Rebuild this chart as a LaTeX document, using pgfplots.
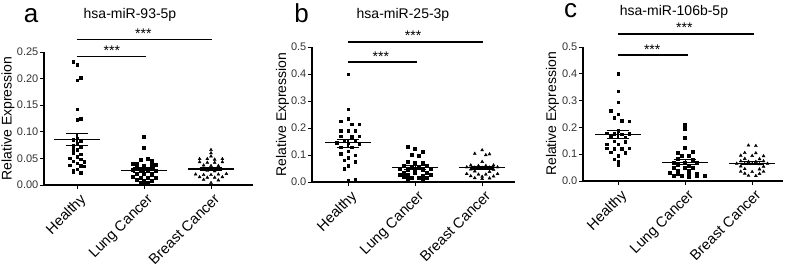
\documentclass[border=0pt]{standalone}
\usepackage{fontspec}
\setmainfont{Liberation Sans}
\usepackage{pgfplots}
\pgfplotsset{compat=1.18}
\pgfplotsset{
  dotplot/.style={
    scale only axis,
    axis x line=bottom, axis y line=left,
    axis line style={-, line width=1.1pt},
    tick align=outside,
    major tick length=4pt,
    tick style={line width=1pt, black},
    xtick={0,1,2},
    xticklabels={Healthy, Lung Cancer, Breast Cancer},
    xticklabel style={rotate=45, anchor=north east, font=\fontsize{14.5}{16}\selectfont, inner sep=1pt, yshift=-3pt},
    yticklabel style={font=\fontsize{11}{13}\selectfont, inner sep=1.5pt, text=black!80},
    ylabel={Relative Expression},
    ylabel style={font=\fontsize{14}{16}\selectfont, anchor=center},
    /pgf/number format/assume math mode=true,
    scaled y ticks=false,
    clip=false,
    ymin=0,
  },
  hl/.style={only marks, mark=square*, mark size=1.2pt, black},
  lc/.style={only marks, mark=square*, mark size=1.5pt, black},
  bc/.style={only marks, mark=triangle*, mark size=1.7pt, black},
  ml/.style={black, line width=1.1pt, mark=none},
  sig/.style={black, line width=1.4pt, mark=none},
}
\newcommand{\stars}{\fontsize{14}{16}\selectfont ***}
\begin{document}
\begin{tikzpicture}
\useasboundingbox (0,0) rectangle (787pt,271pt);
% ---------------- panel a
\begin{axis}[dotplot, at={(44pt,86pt)}, anchor=south west,
  width=209pt, height=133pt, xmin=-0.493, xmax=2.627, ymax=0.25,
  ylabel style={at={(axis description cs:-0.172,0.5)}},
  ytick={0,0.05,0.1,0.15,0.2,0.25},
  yticklabel style={/pgf/number format/.cd, fixed, fixed zerofill, precision=2}]
\addplot[hl] coordinates {(-0.055,0.232) (0,0.226) (0.055,0.202) (0,0.197) (0,0.142) (0,0.123) (0.055,0.125)
 (0,0.088) (-0.055,0.085) (0.055,0.083) (0,0.078) (-0.055,0.075) (0.055,0.071) (-0.055,0.068) (0,0.066)
 (-0.055,0.061) (0.055,0.058) (0,0.053) (-0.11,0.050) (0.055,0.048) (-0.055,0.045) (0.11,0.044) (0,0.041)
 (-0.11,0.037) (0.055,0.036) (0.11,0.035) (0,0.030) (-0.055,0.028) (-0.055,0.024) (0.055,0.023)};
\addplot[lc] coordinates {(1,0.090) (1,0.070) (1.055,0.050) (0.945,0.047) (1.11,0.045)
 (0.83,0.040) (0.89,0.040) (1.11,0.039) (1.17,0.038) (1,0.037)
 (0.89,0.033) (1,0.032) (1.11,0.031)
 (0.83,0.028) (0.945,0.027) (1.055,0.027) (1.17,0.026)
 (0.89,0.022) (1,0.021) (1.11,0.020)
 (0.83,0.015) (0.945,0.014) (1.055,0.014) (1.17,0.013)
 (0.89,0.010) (1.11,0.009) (1,0.008)
 (0.945,0.005) (1.055,0.004) (1,0.003)};
\addplot[bc] coordinates {(2,0.066) (2,0.060) (2,0.054)
 (1.83,0.049) (1.945,0.049) (2.055,0.048) (2.17,0.049)
 (1.83,0.043) (1.945,0.042) (2.055,0.042) (2.17,0.043)
 (1.89,0.037) (2,0.036) (2.11,0.036)
 (1.89,0.031) (2.11,0.030)
 (1.945,0.027) (2.055,0.026)
 (1.77,0.020) (1.89,0.019) (2,0.019) (2.11,0.020) (2.23,0.021)
 (1.83,0.015) (1.945,0.014) (2.055,0.014) (2.17,0.015)
 (1.89,0.010) (2.11,0.009) (2,0.004)};
% mean and SEM
\addplot[ml] coordinates {(-0.34,0.085) (0.34,0.085)};
\addplot[ml] coordinates {(-0.17,0.0965) (0.17,0.0965)};
\addplot[ml] coordinates {(-0.17,0.0746) (0.17,0.0746)};
\addplot[ml] coordinates {(0,0.0746) (0,0.0965)};
\addplot[ml] coordinates {(0.66,0.028) (1.34,0.028)};
\addplot[ml] coordinates {(0.83,0.032) (1.17,0.032)};
\addplot[ml] coordinates {(0.83,0.024) (1.17,0.024)};
\addplot[ml] coordinates {(1,0.024) (1,0.032)};
\addplot[ml] coordinates {(1.66,0.030) (2.34,0.030)};
\addplot[ml] coordinates {(1.83,0.033) (2.17,0.033)};
\addplot[ml] coordinates {(1.83,0.027) (2.17,0.027)};
\addplot[ml] coordinates {(2,0.027) (2,0.033)};
% significance
\addplot[sig] coordinates {(0,0.241) (1.03,0.241)};
\addplot[sig] coordinates {(0,0.274) (2.01,0.274)};
\node[anchor=base, inner sep=0pt, yshift=1pt] at (axis cs:0.52,0.241) {\stars};
\node[anchor=base, inner sep=0pt, yshift=1pt] at (axis cs:0.99,0.274) {\stars};
\end{axis}
% ---------------- panel b
\begin{axis}[dotplot, at={(312pt,89pt)}, anchor=south west,
  width=203pt, height=135pt, xmin=-0.537, xmax=2.49, ymax=0.5,
  ylabel style={at={(axis description cs:-0.145,0.5)}},
  ytick={0,0.1,0.2,0.3,0.4,0.5},
  yticklabel style={/pgf/number format/.cd, fixed, fixed zerofill, precision=1}]
\addplot[hl] coordinates {(0,0.40) (0,0.27) (0,0.235) (-0.11,0.225) (0.055,0.215) (0.17,0.213)
 (-0.11,0.19) (0,0.19) (0.11,0.19)
 (-0.11,0.17) (0.055,0.168) (0.17,0.17)
 (-0.055,0.155) (0.11,0.155)
 (-0.17,0.145) (0,0.143) (0.17,0.14)
 (-0.11,0.13) (0.055,0.128)
 (0,0.115)
 (-0.11,0.105) (0.11,0.10)
 (0,0.09)
 (-0.055,0.08) (0.11,0.075)
 (0,0.06) (-0.055,0.05)
 (0,0.005) (0.11,0.01)};
\addplot[lc] coordinates {(0.89,0.132) (1,0.125) (1.11,0.112) (0.945,0.100) (1.055,0.098)
 (0.89,0.075) (1,0.072) (1.11,0.070)
 (0.83,0.060) (0.945,0.058) (1.055,0.058) (1.17,0.060)
 (0.77,0.048) (0.89,0.046) (1,0.045) (1.11,0.046) (1.23,0.048)
 (0.83,0.035) (1,0.033) (1.17,0.034)
 (0.77,0.028) (0.89,0.026) (1.11,0.025) (1.23,0.027)
 (0.83,0.018) (0.945,0.016) (1.055,0.015) (1.17,0.017)
 (0.89,0.012) (1.11,0.011)};
\addplot[bc] coordinates {(2,0.118) (1.89,0.105) (2.11,0.103) (2.055,0.10)
 (2,0.075)
 (1.83,0.062) (1.945,0.060) (2.055,0.060) (2.17,0.062)
 (1.77,0.055) (1.89,0.054) (2,0.053) (2.11,0.054) (2.23,0.055)
 (1.83,0.047) (2.17,0.046)
 (1.89,0.040) (2.11,0.038)
 (1.77,0.030) (1.945,0.028) (2.055,0.028) (2.23,0.030)
 (1.83,0.022) (2,0.020) (2.17,0.021)
 (1.89,0.015) (2.11,0.014) (2,0.012)};
\addplot[ml] coordinates {(-0.34,0.145) (0.34,0.145)};
\addplot[ml] coordinates {(-0.17,0.159) (0.17,0.159)};
\addplot[ml] coordinates {(-0.17,0.129) (0.17,0.129)};
\addplot[ml] coordinates {(0,0.129) (0,0.159)};
\addplot[ml] coordinates {(0.66,0.053) (1.34,0.053)};
\addplot[ml] coordinates {(0.83,0.060) (1.17,0.060)};
\addplot[ml] coordinates {(0.83,0.046) (1.17,0.046)};
\addplot[ml] coordinates {(1,0.046) (1,0.060)};
\addplot[ml] coordinates {(1.66,0.053) (2.34,0.053)};
\addplot[ml] coordinates {(1.83,0.058) (2.17,0.058)};
\addplot[ml] coordinates {(1.83,0.048) (2.17,0.048)};
\addplot[ml] coordinates {(2,0.048) (2,0.058)};
\addplot[sig] coordinates {(0,0.444) (1.03,0.444)};
\addplot[sig] coordinates {(0,0.519) (2.01,0.519)};
\node[anchor=base, inner sep=0pt, yshift=1pt] at (axis cs:0.49,0.444) {\stars};
\node[anchor=base, inner sep=0pt, yshift=1pt] at (axis cs:0.97,0.519) {\stars};
\end{axis}
% ---------------- panel c
\begin{axis}[dotplot, at={(583pt,90pt)}, anchor=south west,
  width=200pt, height=134pt, xmin=-0.522, xmax=2.46, ymax=0.5,
  ylabel style={at={(axis description cs:-0.153,0.5)}},
  ytick={0,0.1,0.2,0.3,0.4,0.5},
  yticklabel style={/pgf/number format/.cd, fixed, fixed zerofill, precision=1}]
\addplot[hl] coordinates {(0,0.400) (0,0.335) (0,0.293) (-0.11,0.262) (0,0.250) (-0.055,0.236)
 (0.055,0.225) (0.17,0.224)
 (0,0.188)
 (-0.17,0.178) (-0.055,0.176) (0.055,0.175) (0.17,0.177)
 (-0.11,0.165) (0.11,0.163)
 (-0.055,0.148) (0.11,0.146)
 (-0.17,0.138) (0,0.137)
 (-0.17,0.122) (-0.055,0.121) (0.055,0.120) (0.17,0.123)
 (-0.11,0.108) (0.11,0.106)
 (0,0.095) (-0.055,0.082) (0,0.072) (0,0.060)};
\addplot[lc] coordinates {(1,0.211) (1,0.197) (1,0.163) (1,0.126) (1.11,0.108) (0.89,0.106)
 (0.945,0.095) (1.055,0.094)
 (0.89,0.083) (1.11,0.080)
 (0.83,0.070) (1,0.069) (1.17,0.070)
 (0.89,0.060) (1.055,0.058)
 (0.83,0.050) (1,0.049) (1.11,0.050)
 (0.89,0.040) (1.055,0.039)
 (0.77,0.030) (0.89,0.028) (1.055,0.027) (1.17,0.029)
 (0.83,0.020) (0.945,0.018) (1.055,0.017) (1.17,0.019) (1.29,0.021)};
\addplot[bc] coordinates {(1.945,0.133) (2.055,0.131)
 (1.89,0.105) (2.055,0.104)
 (1.83,0.095) (2,0.094) (2.17,0.093)
 (1.89,0.083) (2.11,0.082)
 (1.83,0.074) (1.945,0.072) (2.055,0.072) (2.17,0.074)
 (1.77,0.065) (1.89,0.064) (2,0.064) (2.11,0.063) (2.23,0.065)
 (1.83,0.055) (2.17,0.054)
 (1.89,0.045) (2.11,0.044)
 (1.83,0.035) (2,0.034) (2.17,0.035)
 (1.89,0.028) (2.11,0.027)
 (1.945,0.020) (2.055,0.019)};
\addplot[ml] coordinates {(-0.34,0.174) (0.34,0.174)};
\addplot[ml] coordinates {(-0.17,0.189) (0.17,0.189)};
\addplot[ml] coordinates {(-0.17,0.159) (0.17,0.159)};
\addplot[ml] coordinates {(0,0.159) (0,0.189)};
\addplot[ml] coordinates {(0.66,0.070) (1.34,0.070)};
\addplot[ml] coordinates {(0.83,0.079) (1.17,0.079)};
\addplot[ml] coordinates {(0.83,0.061) (1.17,0.061)};
\addplot[ml] coordinates {(1,0.061) (1,0.079)};
\addplot[ml] coordinates {(1.66,0.066) (2.34,0.066)};
\addplot[ml] coordinates {(1.83,0.072) (2.17,0.072)};
\addplot[ml] coordinates {(1.83,0.060) (2.17,0.060)};
\addplot[ml] coordinates {(2,0.060) (2,0.072)};
\addplot[sig] coordinates {(0,0.470) (1.04,0.470)};
\addplot[sig] coordinates {(0,0.549) (2.03,0.549)};
\node[anchor=base, inner sep=0pt, yshift=1pt] at (axis cs:0.51,0.470) {\stars};
\node[anchor=base, inner sep=0pt, yshift=1pt] at (axis cs:0.99,0.549) {\stars};
\end{axis}
% titles and panel letters
\node[font=\fontsize{14}{16}\selectfont] at (130pt,256pt) {hsa-miR-93-5p};
\node[font=\fontsize{14}{16}\selectfont] at (403pt,256pt) {hsa-miR-25-3p};
\node[font=\fontsize{14}{16}\selectfont] at (674pt,259pt) {hsa-miR-106b-5p};
\node[font=\fontsize{26}{28}\selectfont, anchor=base, inner sep=0pt] at (31pt,248pt) {a};
\node[font=\fontsize{26}{28}\selectfont, anchor=base, inner sep=0pt] at (301.5pt,248pt) {b};
\node[font=\fontsize{26}{28}\selectfont, anchor=base, inner sep=0pt] at (570.5pt,253pt) {c};
\end{tikzpicture}
\end{document}
